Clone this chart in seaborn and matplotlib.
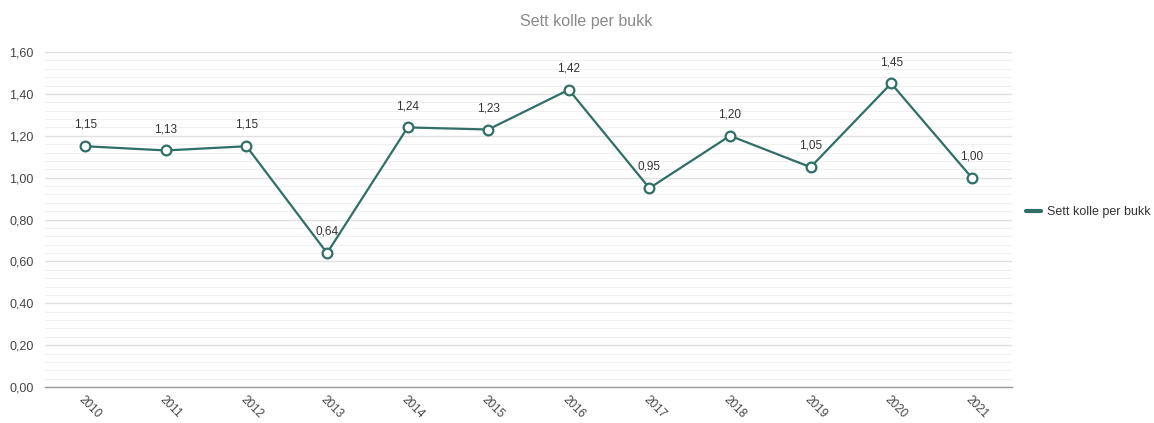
import numpy as np
import pandas as pd
import matplotlib
matplotlib.use('Agg')
import matplotlib.pyplot as plt
import seaborn as sns
from matplotlib.ticker import FuncFormatter, MultipleLocator

years = ['2010', '2011', '2012', '2013', '2014', '2015', '2016', '2017', '2018', '2019', '2020', '2021']
values = [1.15, 1.13, 1.15, 0.64, 1.24, 1.23, 1.42, 0.95, 1.20, 1.05, 1.45, 1.00]
series_name = 'Sett kolle per bukk'

df = pd.DataFrame({'year': years, 'value': values, 'serie': series_name})
df['pos'] = np.arange(len(years))

sns.set_style('white')
plt.rcParams['font.family'] = ['Arial', 'Liberation Sans', 'DejaVu Sans']

color = '#2f6f67'
fig = plt.figure(figsize=(11.54, 4.23), dpi=100)
ax = fig.add_axes([0.039, 0.085, 0.838, 0.792])

sns.lineplot(data=df, x='pos', y='value', hue='serie', palette=[color], ax=ax,
             linewidth=1.6, marker='o', markersize=7, markerfacecolor='white',
             markeredgecolor=color, markeredgewidth=1.6, legend=False)

for p, v in zip(df['pos'], df['value']):
    ax.annotate(f'{v:.2f}'.replace('.', ','), (p, v), xytext=(0, 11), textcoords='offset points',
                ha='center', va='bottom', fontsize=8.5, color='#333333')

ax.set_xlim(-0.5, len(years) - 0.5)
ax.set_ylim(0, 1.6)
ax.yaxis.set_major_locator(MultipleLocator(0.2))
ax.yaxis.set_minor_locator(MultipleLocator(0.04))
ax.yaxis.set_major_formatter(FuncFormatter(lambda y, _: f'{y:.2f}'.replace('.', ',')))
ax.grid(True, which='major', axis='y', color='#e0e0e0', linewidth=1)
ax.grid(True, which='minor', axis='y', color='#f0f0f0', linewidth=0.8)
ax.set_axisbelow(True)

ax.set_xticks(df['pos'])
ax.set_xticklabels(years, rotation=-45, ha='left', va='top', rotation_mode='anchor',
                   fontsize=8.5, color='#444444')
ax.set_xticks(np.arange(-0.5, len(years), 1), minor=True)
ax.tick_params(axis='x', which='major', length=0, pad=5)
ax.tick_params(axis='x', which='minor', length=5, color='#999999', width=1, direction='out')
ax.tick_params(axis='y', length=0, labelsize=9, labelcolor='#444444', pad=8)
ax.tick_params(axis='y', which='minor', length=0)

for s in ['top', 'right', 'left']:
    ax.spines[s].set_visible(False)
ax.spines['bottom'].set_color('#999999')
ax.spines['bottom'].set_linewidth(1)

ax.set_xlabel('')
ax.set_ylabel('')

fig.text(0.508, 0.95, series_name, ha='center', va='center', fontsize=11.5, color='#8a8a8a')

handle = plt.Line2D([], [], color=color, linewidth=3)
fig.legend([handle], [series_name], loc='center left', bbox_to_anchor=(0.879, 0.499),
           frameon=False, fontsize=9, handlelength=1.2, handletextpad=0.5,
           labelcolor='#333333')

fig.savefig('out.png', dpi=100)
